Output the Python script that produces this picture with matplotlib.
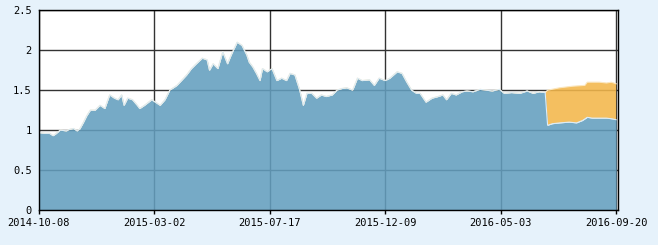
import matplotlib
matplotlib.use('Agg')
import matplotlib.pyplot as plt

# x positions are trading-day indices, ticks every 96 days
tick_pos = [0, 96, 192, 288, 384, 480]
tick_labels = ['2014-10-08', '2015-03-02', '2015-07-17', '2015-12-09', '2016-05-03', '2016-09-20']

blue_x = [0, 5, 9, 12, 14, 18, 23, 26, 29, 32, 34, 37, 40, 43, 47, 51, 55, 59, 63, 66,
          69, 71, 74, 78, 82, 84, 88, 94, 98, 101, 105, 109, 115, 123, 127, 131, 136, 140,
          142, 145, 149, 153, 157, 160, 165, 169, 173, 175, 178, 181, 184, 186, 190, 194,
          198, 202, 206, 209, 213, 217, 220, 223, 227, 231, 235, 239, 244, 248, 252, 256,
          261, 265, 269, 275, 279, 283, 288, 292, 298, 302, 306, 310, 314, 317, 322, 327,
          332, 336, 339, 343, 347, 352, 356, 361, 367, 372, 377, 383, 387, 393, 400, 406,
          411, 416, 421, 423, 427, 433, 441, 447, 452, 456, 460, 466, 472, 477, 480]
blue_y = [0.97, 0.96, 0.96, 0.93, 0.95, 1.00, 0.99, 1.01, 1.02, 0.99, 1.01, 1.09, 1.18, 1.25, 1.25, 1.31, 1.27, 1.44, 1.40, 1.38,
          1.44, 1.31, 1.40, 1.38, 1.31, 1.27, 1.31, 1.38, 1.34, 1.31, 1.38, 1.50, 1.56, 1.69, 1.77, 1.83, 1.90, 1.88,
          1.75, 1.83, 1.77, 1.98, 1.83, 1.94, 2.10, 2.06, 1.94, 1.85, 1.79, 1.71, 1.62, 1.77, 1.73, 1.77,
          1.62, 1.65, 1.62, 1.71, 1.69, 1.50, 1.31, 1.46, 1.46, 1.40, 1.44, 1.42, 1.44, 1.50, 1.52, 1.53,
          1.50, 1.65, 1.62, 1.63, 1.56, 1.65, 1.62, 1.65, 1.73, 1.71, 1.60, 1.50, 1.46, 1.46, 1.35, 1.40,
          1.42, 1.44, 1.38, 1.46, 1.44, 1.48, 1.49, 1.48, 1.51, 1.50, 1.49, 1.51, 1.46, 1.47, 1.46, 1.49,
          1.46, 1.48, 1.47, 1.06, 1.08, 1.09, 1.10, 1.09, 1.12, 1.16, 1.15, 1.15, 1.15, 1.14, 1.13]

# orange follows blue until the split, then stays up
orange_x = blue_x[:105] + [423, 433, 444, 454, 456, 466, 472, 476, 480]
orange_y = blue_y[:105] + [1.50, 1.53, 1.55, 1.56, 1.60, 1.60, 1.59, 1.60, 1.58]
split = 104

fig = plt.figure(figsize=(6.58, 2.45), dpi=100, facecolor='#e6f2fb')
ax = fig.add_axes([0.0588, 0.1429, 0.8800, 0.8151])
ax.set_facecolor('white')
ax.set_axisbelow(True)
ax.grid(True, color='#333333', linewidth=1)

# orange band only between the two curves, so blue is not tinted
band_x = orange_x[split:] + blue_x[split:][::-1]
band_y = orange_y[split:] + blue_y[split:][::-1]
ax.fill(band_x, band_y, color='#f3b74a', alpha=0.88, linewidth=0)
ax.plot(orange_x, orange_y, color='#fbe7c0', linewidth=0.8)
ax.fill_between(blue_x, blue_y, 0, color='#639ebe', alpha=0.88, linewidth=0)
ax.plot(blue_x, blue_y, color='#dcecf6', linewidth=0.8)

ax.set_xlim(0, 481.3)
ax.set_ylim(0, 2.5)
ax.set_xticks(tick_pos)
ax.set_xticklabels(tick_labels)
ax.set_yticks([0, 0.5, 1, 1.5, 2, 2.5])
ax.set_yticklabels(['0', '0.5', '1', '1.5', '2', '2.5'])
for s in ax.spines.values():
    s.set_color('black')
    s.set_linewidth(1)
ax.tick_params(axis='x', length=3, width=1, color='black', pad=3, labelsize=7.5)
ax.tick_params(axis='y', length=0, pad=5, labelsize=7.5)
for lab in ax.get_xticklabels() + ax.get_yticklabels():
    lab.set_family('DejaVu Sans Mono')
    lab.set_color('black')

fig.savefig('out.png', dpi=100, facecolor=fig.get_facecolor())
